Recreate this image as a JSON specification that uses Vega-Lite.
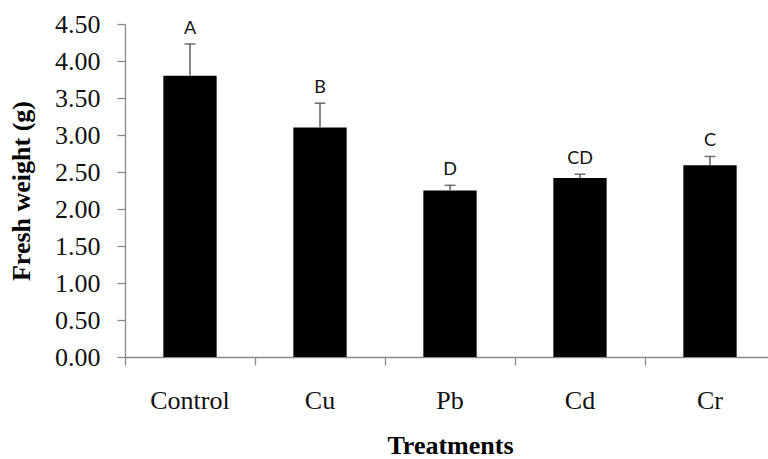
{
  "$schema": "https://vega.github.io/schema/vega-lite/v6.json",
  "width": 643,
  "height": 333,
  "autosize": {"type": "none"},
  "padding": {"left": 125, "top": 24, "right": 0, "bottom": 102},
  "background": "white",
  "config": {
    "view": {"stroke": null},
    "font": "Liberation Serif"
  },
  "data": {
    "values": [
      {"treatment": "Control", "mean": 3.80, "upper": 4.23, "letter": "A"},
      {"treatment": "Cu", "mean": 3.10, "upper": 3.43, "letter": "B"},
      {"treatment": "Pb", "mean": 2.25, "upper": 2.32, "letter": "D"},
      {"treatment": "Cd", "mean": 2.42, "upper": 2.47, "letter": "CD"},
      {"treatment": "Cr", "mean": 2.59, "upper": 2.71, "letter": "C"}
    ]
  },
  "encoding": {
    "x": {
      "field": "treatment",
      "type": "nominal",
      "sort": null,
      "scale": {"range": [0, 650], "paddingInner": 0, "paddingOuter": 0},
      "axis": {
        "title": "Treatments",
        "titleFont": "Liberation Serif",
        "titleFontWeight": "bold",
        "titleFontSize": 26,
        "titleColor": "black",
        "titleBaseline": "alphabetic",
        "titleX": 325,
        "titleY": 96,
        "labelFont": "Liberation Serif",
        "labelFontSize": 26,
        "labelColor": "#111111",
        "labelAngle": 0,
        "labelBaseline": "top",
        "labelPadding": 22,
        "bandPosition": 0,
        "tickSize": 8,
        "tickColor": "#8a8a8a",
        "tickWidth": 1.3,
        "domainColor": "#8a8a8a",
        "domainWidth": 1.3
      }
    },
    "y": {
      "field": "mean",
      "type": "quantitative",
      "scale": {"domain": [0, 4.5], "nice": false},
      "axis": {
        "title": "Fresh weight (g)",
        "titleFont": "Liberation Serif",
        "titleFontWeight": "bold",
        "titleFontSize": 26,
        "titleColor": "black",
        "titleAngle": -90,
        "titleAlign": "center",
        "titleBaseline": "alphabetic",
        "titleX": -96,
        "titleY": 166.5,
        "values": [0, 0.5, 1, 1.5, 2, 2.5, 3, 3.5, 4, 4.5],
        "tickCount": 20,
        "format": ".2f",
        "grid": false,
        "labelOverlap": false,
        "labelFont": "Liberation Serif",
        "labelFontSize": 26,
        "labelColor": "#111111",
        "labelPadding": 17,
        "tickSize": 8,
        "tickColor": "#8a8a8a",
        "tickWidth": 1.3,
        "domainColor": "#8a8a8a",
        "domainWidth": 1.3
      }
    }
  },
  "layer": [
    {
      "mark": {"type": "bar", "color": "black", "width": {"band": 0.41}}
    },
    {
      "mark": {"type": "rule", "color": "#7a7a7a", "strokeWidth": 1.8},
      "encoding": {
        "y2": {"field": "upper"}
      }
    },
    {
      "mark": {"type": "tick", "color": "#404040", "size": 11, "thickness": 1.6},
      "encoding": {
        "y": {"field": "upper", "type": "quantitative"}
      }
    },
    {
      "mark": {"type": "text", "font": "Lato", "fontSize": 18, "color": "#111111", "baseline": "alphabetic", "dy": -10},
      "encoding": {
        "y": {"field": "upper", "type": "quantitative"},
        "text": {"field": "letter"}
      }
    }
  ]
}
